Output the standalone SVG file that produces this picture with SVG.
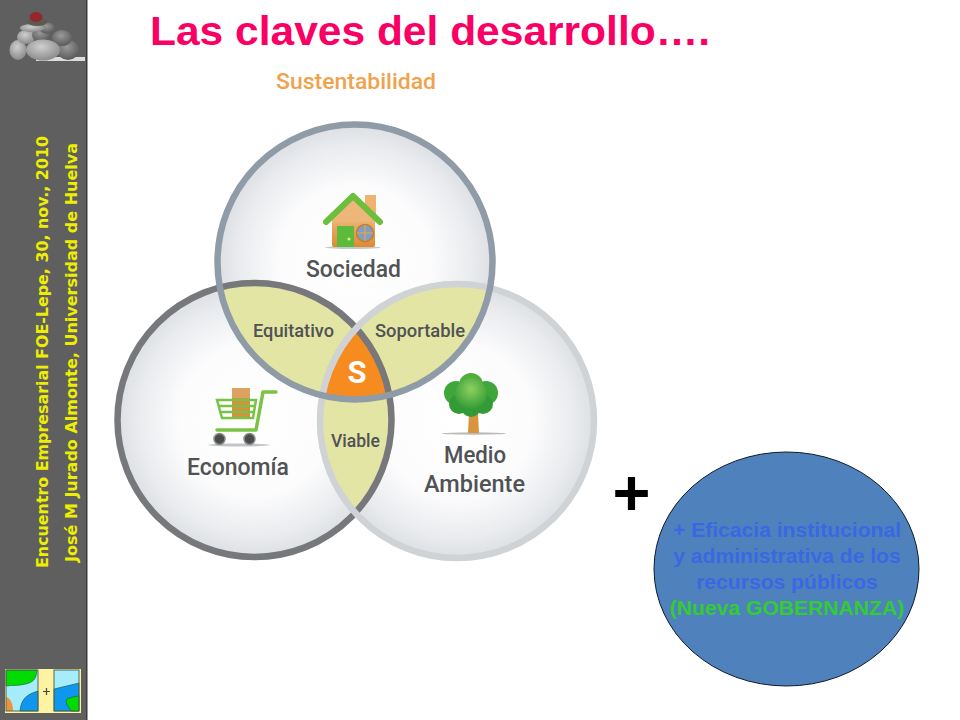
<svg xmlns="http://www.w3.org/2000/svg" width="960" height="720" viewBox="0 0 960 720">
<style>
.side{font-family:"DejaVu Sans",Verdana,sans-serif;font-weight:700;font-size:15px;fill:#eeee00}
.lab{font-family:"Roboto","Noto Sans",sans-serif;font-weight:500;fill:#505254}
.box{font-family:"Liberation Sans",Arial,sans-serif;font-weight:700;font-size:21.100px;text-anchor:middle;fill:#3a68e2}
</style>
<defs>
<radialGradient id="disc" cx="50%" cy="50%" r="50%">
<stop offset="0" stop-color="#ffffff"/><stop offset=".55" stop-color="#fcfcfd"/><stop offset=".85" stop-color="#e9ebee"/><stop offset="1" stop-color="#dcdfe3"/>
</radialGradient>
<radialGradient id="stone" cx="45%" cy="35%" r="70%">
<stop offset="0" stop-color="#cfcfcf"/><stop offset="1" stop-color="#868686"/>
</radialGradient>
<radialGradient id="stoneD" cx="45%" cy="35%" r="70%">
<stop offset="0" stop-color="#9a9a9a"/><stop offset="1" stop-color="#555555"/>
</radialGradient>
<radialGradient id="crown" cx="50%" cy="35%" r="65%">
<stop offset="0" stop-color="#8fd060"/><stop offset="1" stop-color="#2f9a35"/>
</radialGradient>
<linearGradient id="body" x1="0" y1="0" x2="0" y2="1">
<stop offset="0" stop-color="#f0c186"/><stop offset="1" stop-color="#dc8a33"/>
</linearGradient>
<clipPath id="cS"><circle cx="355" cy="262" r="140"/></clipPath>
<clipPath id="cE"><circle cx="254.500" cy="420" r="140"/></clipPath>
<clipPath id="cSE" clip-path="url(#cS)"><circle cx="254.500" cy="420" r="140"/></clipPath>
</defs>
<rect width="960" height="720" fill="#ffffff"/>
<g id="sidebar">
<rect x="0" y="0" width="87" height="720" fill="#5f5f5f"/>
<rect x="86" y="0" width="1.500" height="720" fill="#3c3c3c"/>
<text class="side" transform="translate(48 568) rotate(-90)" textLength="432" lengthAdjust="spacingAndGlyphs">Encuentro Empresarial FOE-Lepe, 30, nov., 2010</text>
<text class="side" transform="translate(77 562) rotate(-90)" textLength="419" lengthAdjust="spacingAndGlyphs">José M Jurado Almonte, Universidad de Huelva</text>
</g>
<g id="logo-stones">
<rect x="36" y="57" width="49" height="4" fill="#dcdcdc"/>
<ellipse cx="68" cy="50" rx="11" ry="10" fill="url(#stoneD)"/>
<ellipse cx="62" cy="38" rx="10" ry="8" fill="url(#stoneD)"/>
<ellipse cx="18" cy="50" rx="8.500" ry="10" fill="url(#stone)"/>
<ellipse cx="26" cy="37" rx="9" ry="7" fill="url(#stone)"/>
<ellipse cx="41" cy="35" rx="9" ry="7" fill="url(#stoneD)"/>
<ellipse cx="47" cy="28" rx="8" ry="5.500" fill="url(#stoneD)"/>
<ellipse cx="32" cy="28" rx="12" ry="4" fill="url(#stone)"/>
<ellipse cx="37" cy="22" rx="10" ry="4" fill="#5b5b52"/>
<ellipse cx="43" cy="50" rx="17" ry="10.500" fill="url(#stone)"/>
<ellipse cx="36" cy="17" rx="6.500" ry="5" fill="#96262e"/>
</g>
<g id="logo-maps">
<rect x="5" y="669" width="76" height="44" fill="#fdf3a2"/>
<rect x="6" y="670" width="32" height="41" fill="#a6ecfb"/>
<path d="M6 670H37C36 680 33 682 26 684C18 686 12 685 6 686Z" fill="#00dc00" stroke="#14553a" stroke-width=".6"/>
<path d="M38 691C28 694 21 698 20 711H38Z" fill="#0f97f0" stroke="#14553a" stroke-width=".6"/>
<path d="M6 697C11 698 13 705 13 711H6Z" fill="#f0923c"/>
<rect x="6" y="670" width="32" height="41" fill="none" stroke="#4f6b52" stroke-width="1"/>
<rect x="54" y="670" width="25" height="41" fill="#a6ecfb"/>
<path d="M54 689L79 683V711H54Z" fill="#0f97f0" stroke="#14553a" stroke-width=".6"/>
<path d="M79 696C72 697 66 698 66 701C66 705 70 708 71 711H79Z" fill="#00dc00" stroke="#14553a" stroke-width=".6"/>
<rect x="54" y="670" width="25" height="41" fill="none" stroke="#4f6b52" stroke-width="1"/>
<path d="M43 691.500H50M46.500 688V695" stroke="#4a4a30" stroke-width="1.200"/>
</g>
<text id="title" x="150" y="45" font-family="'Liberation Sans',Arial,sans-serif" font-weight="700" font-size="40" fill="#fa0064" textLength="560" lengthAdjust="spacingAndGlyphs">Las claves del desarrollo….</text>
<text id="sustentabilidad" class="lab" x="276" y="89" font-size="22" style="fill:#f0a24d" textLength="160" lengthAdjust="spacingAndGlyphs">Sustentabilidad</text>
<g id="venn">
<circle cx="254.500" cy="420" r="138" fill="url(#disc)"/>
<circle cx="457" cy="421" r="138" fill="url(#disc)"/>
<circle cx="355" cy="262" r="138" fill="url(#disc)"/>
<g id="lens-equitativo"><circle cx="254.500" cy="420" r="140" fill="#e3e5a4" clip-path="url(#cS)"/></g>
<g id="lens-soportable"><circle cx="457" cy="421" r="140" fill="#e3e5a4" clip-path="url(#cS)"/></g>
<g id="lens-viable"><circle cx="457" cy="421" r="140" fill="#e3e5a4" clip-path="url(#cE)"/></g>
<g id="core-s"><circle cx="457" cy="421" r="140" fill="#f68c1f" clip-path="url(#cSE)"/></g>
<circle id="ring-economia" cx="254.500" cy="420" r="137" fill="none" stroke="#76787b" stroke-width="6.500"/>
<circle id="ring-medio" cx="457" cy="421" r="137" fill="none" stroke="#d0d3d6" stroke-width="6.500"/>
<circle id="ring-sociedad" cx="355" cy="262" r="137.500" fill="none" stroke="#8f9ba6" stroke-width="6.500"/>
</g>
<g id="node-sociedad">
<ellipse cx="353" cy="247.500" rx="28" ry="1.500" fill="#c7c9c9"/>
<rect x="365" y="195" width="11" height="25" fill="#efb26f"/>
<rect x="332" y="212" width="43" height="35" rx="2" fill="url(#body)"/>
<path d="M332 216L353 199L375 216V222H332Z" fill="#efb67a"/>
<path d="M326 222L353 196L380 222" fill="none" stroke="#6cbf3c" stroke-width="6" stroke-linecap="round" stroke-linejoin="round"/>
<rect x="337" y="226" width="17" height="21" fill="#5cba3c"/>
<circle cx="349" cy="239" r="1.600" fill="#e9ec6b"/>
<circle cx="365" cy="233" r="8.500" fill="#7f9fc0" stroke="#c97a2f" stroke-width="1.500"/>
<path d="M365 225V241M357 233H373" stroke="#d9a066" stroke-width="1.500"/>
<text class="lab" x="306" y="277" font-size="24" textLength="95" lengthAdjust="spacingAndGlyphs">Sociedad</text>
</g>
<g id="node-economia">
<ellipse cx="239" cy="445" rx="31" ry="1.500" fill="#c2c4c8"/>
<rect x="232" y="388" width="18" height="10" fill="#dca262"/>
<rect x="232" y="398" width="18" height="20" fill="#d88f3e"/>
<path d="M217 400H256L253 418H222ZM218 406H255M220 412H254" fill="none" stroke="#79c447" stroke-width="2.500"/>
<path d="M276 392H263L256 430H217" fill="none" stroke="#79c447" stroke-width="3.500" stroke-linejoin="round" stroke-linecap="round"/>
<circle cx="219.500" cy="439" r="5.500" fill="#4a4c4a" stroke="#8a8c88" stroke-width="1.500"/>
<circle cx="249.500" cy="439" r="5.500" fill="#4a4c4a" stroke="#8a8c88" stroke-width="1.500"/>
<text class="lab" x="187" y="475" font-size="24" textLength="102" lengthAdjust="spacingAndGlyphs">Economía</text>
</g>
<g id="node-medio-ambiente">
<ellipse cx="474" cy="433.500" rx="32" ry="1.200" fill="#b9bbb8"/>
<path d="M469 413H478L479 433H468Z" fill="#d99440"/>
<circle cx="471" cy="385" r="12" fill="#4fae3c"/>
<circle cx="456" cy="393" r="12" fill="#3fa63a"/>
<circle cx="486" cy="393" r="12" fill="#3fa63a"/>
<circle cx="459" cy="404" r="10" fill="#339a36"/>
<circle cx="483" cy="404" r="10" fill="#339a36"/>
<circle cx="471" cy="407" r="10" fill="#339a36"/>
<circle cx="471" cy="394" r="16" fill="url(#crown)"/>
<text class="lab" x="444" y="463" font-size="24" textLength="62" lengthAdjust="spacingAndGlyphs">Medio</text>
<text class="lab" x="424" y="492" font-size="24" textLength="101" lengthAdjust="spacingAndGlyphs">Ambiente</text>
</g>
<text id="label-equitativo" class="lab" x="253" y="337" font-size="19" textLength="81" lengthAdjust="spacingAndGlyphs">Equitativo</text>
<text id="label-soportable" class="lab" x="375" y="337" font-size="19" textLength="90" lengthAdjust="spacingAndGlyphs">Soportable</text>
<text id="label-viable" class="lab" x="331" y="447" font-size="19" textLength="49" lengthAdjust="spacingAndGlyphs">Viable</text>
<text id="label-s" x="357" y="383" font-family="Roboto,'Noto Sans',sans-serif" font-weight="700" font-size="31" text-anchor="middle" fill="#ffffff">S</text>
<text id="plus" x="631.500" y="515" font-family="'Liberation Sans',Arial,sans-serif" font-weight="700" font-size="65" text-anchor="middle" fill="#000000">+</text>
<g id="node-gobernanza">
<ellipse cx="786.500" cy="569" rx="132.500" ry="117" fill="#4f81bd" stroke="#0d1a2a" stroke-width="1"/>
<text class="box" x="787" y="537">+ Eficacia institucional</text>
<text class="box" x="787" y="563">y administrativa de los</text>
<text class="box" x="787" y="589">recursos públicos</text>
<text class="box" x="787" y="615" style="fill:#33cc33">(Nueva GOBERNANZA)</text>
</g>
</svg>
